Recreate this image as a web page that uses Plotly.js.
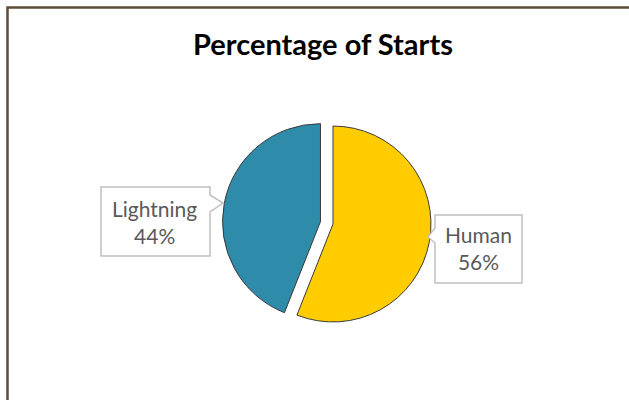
<!DOCTYPE html>
<html><head><meta charset="utf-8">
<script src="https://cdn.plot.ly/plotly-3.0.1.min.js"></script>
<style>html,body{margin:0;padding:0;background:#fff}#chart{width:629px;height:400px}</style>
</head><body><div id="chart"></div>
<script>
const labels = ['Human', 'Lightning'];
const values = [56, 44];
const colors = ['#FFCC00', '#2E8BAA'];
const pulls = [0, 0.13];

const W = 629, H = 400;
const px = v => v / W, py = v => 1 - v / H;

// callout boxes (pixels): box edges, notch side, notch span and tip, text centre
const callouts = [
  {x0: 435, x1: 522, y0: 215, y1: 283, side: 'left', n0: 228, n1: 243, tip: [428, 237], text: [478, 248]},
  {x0: 101, x1: 210, y0: 187, y1: 256, side: 'right', n0: 195, n1: 212, tip: [223, 203], text: [154, 222]}
];

function calloutPath(c) {
  const P = (x, y) => `${px(x)} ${py(y)}`;
  if (c.side === 'right') {
    return `M ${P(c.x0, c.y0)} L ${P(c.x1, c.y0)} L ${P(c.x1, c.n0)} L ${P(c.tip[0], c.tip[1])} L ${P(c.x1, c.n1)} L ${P(c.x1, c.y1)} L ${P(c.x0, c.y1)} Z`;
  }
  return `M ${P(c.x0, c.y0)} L ${P(c.x1, c.y0)} L ${P(c.x1, c.y1)} L ${P(c.x0, c.y1)} L ${P(c.x0, c.n1)} L ${P(c.tip[0], c.tip[1])} L ${P(c.x0, c.n0)} Z`;
}

const trace = {
  type: 'pie',
  labels: labels,
  values: values,
  sort: false,
  direction: 'clockwise',
  rotation: 0,
  pull: pulls,
  marker: {colors: colors, line: {color: '#3A3A3A', width: 1}},
  textinfo: 'none',
  hoverinfo: 'label+percent',
  showlegend: false,
  domain: {x: [px(333 - 150), px(333 + 150)], y: [py(224 + 110.7), py(224 - 110.7)]}
};

const total = values.reduce((a, b) => a + b, 0);
const annotations = labels.map((l, i) => ({
  xref: 'paper', yref: 'paper',
  x: px(callouts[i].text[0]), y: py(callouts[i].text[1]),
  xanchor: 'center', yanchor: 'middle',
  showarrow: false,
  text: l + '<br>' + Math.round(values[i] / total * 100) + '%',
  font: {family: 'Lato, Carlito, sans-serif', size: 21, color: '#595959'},
  align: 'center'
}));

const shapes = callouts.map(c => ({
  type: 'path', xref: 'paper', yref: 'paper', layer: 'above',
  path: calloutPath(c),
  fillcolor: '#FFFFFF',
  line: {color: '#C0C0C0', width: 1.5}
}));
shapes.push({
  type: 'path', xref: 'paper', yref: 'paper',
  path: `M ${px(7.5)} ${py(401)} L ${px(7.5)} ${py(7.5)} L ${px(630)} ${py(7.5)}`,
  line: {color: '#5E4B3A', width: 2.5}
});

const layout = {
  width: W, height: H,
  margin: {l: 0, r: 0, t: 0, b: 0},
  paper_bgcolor: '#FFFFFF',
  title: {
    text: 'Percentage of Starts',
    x: px(323), xanchor: 'center', y: py(45), yanchor: 'middle',
    font: {family: 'Lato, Carlito, sans-serif', size: 29, weight: 'bold', color: '#000000'}
  },
  annotations: annotations,
  shapes: shapes
};

Plotly.newPlot('chart', [trace], layout, {displayModeBar: false, staticPlot: true});
</script>
</body></html>
